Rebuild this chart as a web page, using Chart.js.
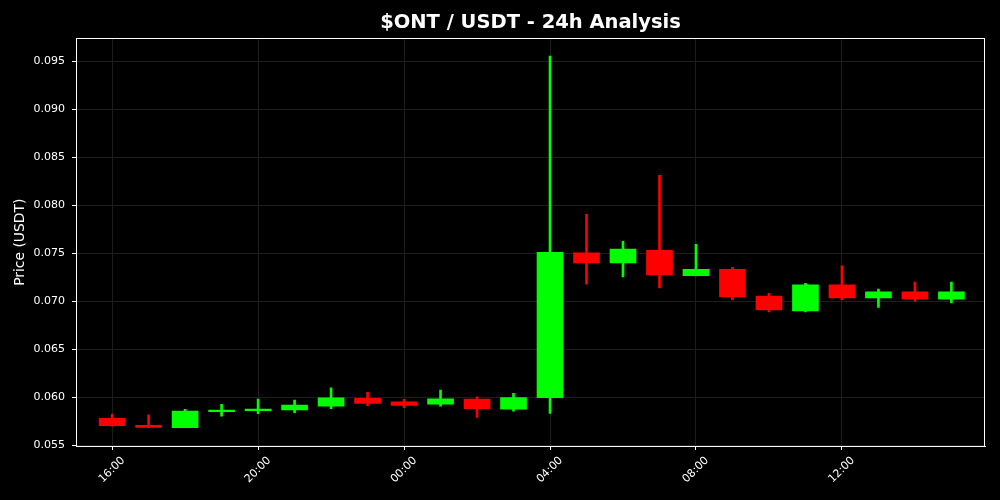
<!DOCTYPE html>
<html>
<head>
<meta charset="utf-8">
<script src="https://cdn.jsdelivr.net/npm/chart.js@4.4.1/dist/chart.umd.min.js"></script>
<style>
  html, body { margin: 0; padding: 0; background: #000; }
  #wrap { width: 1000px; height: 500px; }
</style>
</head>
<body>
<div id="wrap"><canvas id="myChart" width="1000" height="500"></canvas></div>
<script>
// hourly candles, 16:00 -> 15:00
const hours = ['16:00', '17:00', '18:00', '19:00', '20:00', '21:00', '22:00', '23:00',
  '00:00', '01:00', '02:00', '03:00', '04:00', '05:00', '06:00', '07:00',
  '08:00', '09:00', '10:00', '11:00', '12:00', '13:00', '14:00', '15:00'];
const opens = [0.05778, 0.05705, 0.05682, 0.05848, 0.05858, 0.05866, 0.05906, 0.05987,
  0.05951, 0.05927, 0.05979, 0.05875, 0.05993, 0.07503, 0.07399, 0.07531,
  0.07266, 0.07333, 0.07052, 0.06899, 0.07170, 0.07035, 0.07097, 0.07021];
const closes = [0.05703, 0.05685, 0.05854, 0.05864, 0.05875, 0.05917, 0.05993, 0.05934,
  0.05914, 0.05983, 0.05878, 0.05996, 0.07510, 0.07399, 0.07542, 0.07274,
  0.07333, 0.07045, 0.06910, 0.07170, 0.07035, 0.07097, 0.07021, 0.07097];
const highs = [0.05823, 0.05816, 0.05872, 0.05924, 0.05979, 0.05969, 0.06097, 0.06049,
  0.05976, 0.06073, 0.06003, 0.06038, 0.09555, 0.07906, 0.07625, 0.08313,
  0.07594, 0.07354, 0.07083, 0.07187, 0.07368, 0.07125, 0.07198, 0.07198];
const lows = [0.05697, 0.05685, 0.05680, 0.05802, 0.05826, 0.05837, 0.05878, 0.05910,
  0.05889, 0.05906, 0.05789, 0.05854, 0.05830, 0.07177, 0.07253, 0.07139,
  0.07264, 0.07014, 0.06889, 0.06889, 0.07014, 0.06934, 0.07000, 0.06983];
const yTicks = [0.055, 0.060, 0.065, 0.070, 0.075, 0.080, 0.085, 0.090, 0.095];
const xTicks = [0, 4, 8, 12, 16, 20];

const UP = '#00ff00';
const DOWN = '#ff0000';
const candleColors = opens.map((o, i) => closes[i] >= o ? UP : DOWN);

const bodies = opens.map((o, i) => ({ x: i, y: [Math.min(o, closes[i]), Math.max(o, closes[i])] }));
const wicks = lows.map((l, i) => ({ x: i, y: [l, highs[i]] }));

// matplotlib style box around the plot
const frame = {
  id: 'frame',
  afterDatasetsDraw(chart) {
    const a = chart.chartArea;
    const c = chart.ctx;
    c.save();
    c.strokeStyle = '#ffffff';
    c.lineWidth = 1;
    c.strokeRect(Math.round(a.left) + 0.5, Math.round(a.top) + 0.5,
      Math.round(a.right - a.left) - 1, Math.round(a.bottom - a.top));
    c.restore();
  }
};

const font = 'DejaVu Sans';

new Chart(document.getElementById('myChart'), {
  type: 'bar',
  plugins: [frame],
  data: {
    datasets: [
      {
        label: 'body',
        data: bodies,
        backgroundColor: candleColors,
        borderWidth: 0,
        barThickness: 26,
        grouped: false,
        minBarLength: 1
      },
      {
        label: 'wick',
        data: wicks,
        backgroundColor: candleColors,
        borderWidth: 0,
        barThickness: 2,
        grouped: false
      }
    ]
  },
  options: {
    responsive: false,
    animation: false,
    devicePixelRatio: 1,
    layout: { padding: { left: 0, right: 15, top: 0, bottom: 0 } },
    plugins: {
      legend: { display: false },
      tooltip: { enabled: false },
      title: {
        display: true,
        fullSize: false, // center over the plot, not the canvas
        text: '$ONT / USDT - 24h Analysis',
        color: '#ffffff',
        font: { family: font, size: 19.5, weight: 'bold' },
        padding: { top: 11, bottom: 4 }
      }
    },
    scales: {
      x: {
        type: 'linear',
        min: -0.99,
        max: 23.92,
        offset: false,
        afterBuildTicks: (s) => { s.ticks = xTicks.map(v => ({ value: v })); },
        afterFit: (s) => { s.height = 54; },
        grid: { color: '#1d1d1d', offset: false, drawTicks: true, tickLength: 4, tickColor: '#ffffff' },
        border: { color: '#ffffff' },
        ticks: {
          color: '#ffffff',
          font: { family: font, size: 11 },
          minRotation: 45,
          maxRotation: 45,
          autoSkip: false,
          padding: 4,
          labelOffset: 11,
          callback: (v) => hours[v]
        }
      },
      y: {
        min: 0.0549,
        max: 0.0974,
        afterBuildTicks: (s) => { s.ticks = yTicks.map(v => ({ value: v })); },
        afterFit: (s) => { s.width = 76; },
        grid: { color: '#1d1d1d', drawTicks: true, tickLength: 4, tickColor: '#ffffff' },
        border: { color: '#ffffff' },
        title: {
          display: true,
          text: 'Price (USDT)',
          color: '#ffffff',
          font: { family: font, size: 13.9 },
          padding: { top: 12, bottom: 0 }
        },
        ticks: {
          color: '#ffffff',
          font: { family: font, size: 11 },
          padding: 7,
          callback: (v) => v.toFixed(3)
        }
      }
    }
  }
});
</script>
</body>
</html>
